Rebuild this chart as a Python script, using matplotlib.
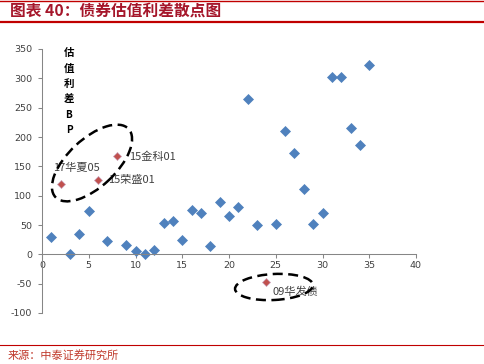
import matplotlib
matplotlib.use('Agg')
import matplotlib.pyplot as plt
from matplotlib.patches import Ellipse
from matplotlib.lines import Line2D
from matplotlib.transforms import IdentityTransform

plt.rcParams['font.family'] = ['Noto Sans CJK SC', 'DejaVu Sans']
plt.rcParams['axes.unicode_minus'] = False

# ---- data ----
blue_x = [1, 3, 4, 5, 7, 9, 10, 11, 12, 13, 14, 15, 16, 17, 18, 19, 20, 21,
          22, 23, 25, 26, 27, 28, 29, 30, 31, 32, 33, 34, 35]
blue_y = [29, 1, 35, 74, 22, 16, 6, 1, 8, 53, 56, 24, 76, 70, 14, 90, 66, 80,
          265, 50, 52, 210, 172, 111, 52, 70, 302, 302, 215, 186, 323]
red_x = [2, 6, 8, 24]
red_y = [120, 126, 167, -48]
red_labels = ['17华夏05', '15荣盛01', '15金科01', '09华发债']
x_ticks = list(range(0, 41, 5))
y_ticks = list(range(-100, 351, 50))
ylabel_chars = ['估', '值', '利', '差', 'B', 'P']
title = '图表 40：债券估值利差散点图'
source = '来源：中泰证券研究所'

W, H = 484, 364
fig = plt.figure(figsize=(W / 100, H / 100), dpi=100)
ax = fig.add_axes([42 / W, 1 - 313 / H, (416 - 42) / W, (313 - 49) / H])
ax.set_xlim(0, 40)
ax.set_ylim(-100, 350)
ax.set_xticks(x_ticks)
ax.set_yticks(y_ticks)
for s in ['top', 'right']:
    ax.spines[s].set_visible(False)
ax.spines['bottom'].set_position(('data', 0))
for s in ['bottom', 'left']:
    ax.spines[s].set_color('#868686')
    ax.spines[s].set_linewidth(0.75)
ax.tick_params(axis='both', direction='out', length=3, width=0.75,
               color='#868686', labelsize=6.8, labelcolor='#404040')
ax.tick_params(axis='x', pad=2)
ax.tick_params(axis='y', pad=4)
for lab in ax.get_xticklabels() + ax.get_yticklabels():
    lab.set_family('DejaVu Sans')

ax.plot(blue_x, blue_y, 'D', ms=5, color='#4F81BD', mec='#4F81BD',
        mew=0.5, linestyle='none', clip_on=False)
ax.plot(red_x, red_y, 'D', ms=3.6, color='#C0504D', mec='#C9A0B8',
        mew=0.5, linestyle='none', clip_on=False)

label_offsets = [(16, 16, 'center'), (10, 0, 'left'), (12, 0, 'left'), (6, -9, 'left')]
for x, y, t, (dx, dy, ha) in zip(red_x, red_y, red_labels, label_offsets):
    ax.annotate(t, (x, y), xytext=(dx, dy), textcoords='offset pixels',
                ha=ha, va='center', fontsize=8, color='#404040')

# dashed ellipses (display pixel coordinates)
fig.add_artist(Ellipse((92, H - 163), 100, 48, angle=43, transform=IdentityTransform(),
                       fill=False, ls=(0, (4, 2.2)), lw=1.8, color='black'))
fig.add_artist(Ellipse((274, H - 287), 78, 26, angle=3, transform=IdentityTransform(),
                       fill=False, ls=(0, (4, 2.2)), lw=1.8, color='black'))

# vertical y-axis label
for i, ch in enumerate(ylabel_chars):
    fs = 7.5 if i < 4 else 7.2
    fig.text(69 / W, 1 - (53 + 15.4 * i) / H, ch, ha='center', va='center',
             fontsize=fs, fontweight='bold', color='black')

# header / footer
fig.add_artist(Line2D([0, 1], [1 - 0.5 / H] * 2, transform=fig.transFigure,
                      color='#C00000', lw=1))
fig.add_artist(Line2D([0, 1], [1 - 22 / H] * 2, transform=fig.transFigure,
                      color='#C00000', lw=1.6))
fig.add_artist(Line2D([0, 1], [1 - 345 / H] * 2, transform=fig.transFigure,
                      color='#C00000', lw=0.8))
fig.text(10 / W, 1 - 11 / H, title, fontsize=11.3, fontweight='bold',
         color='#A5162A', va='center', ha='left')
fig.text(8 / W, 1 - 355 / H, source, fontsize=8, color='#C0392B',
         va='center', ha='left')

fig.savefig('out.png', dpi=100)
